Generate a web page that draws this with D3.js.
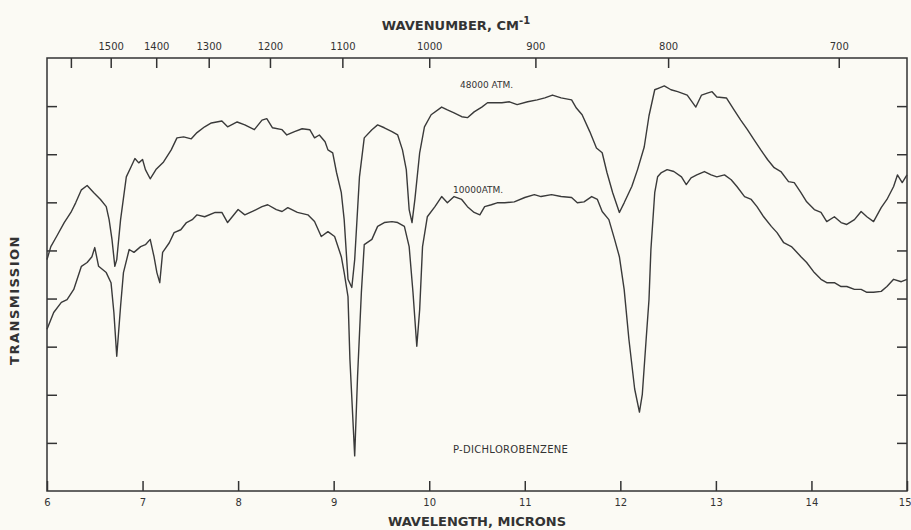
<!DOCTYPE html>
<html>
<head>
<meta charset="utf-8">
<script src="https://cdn.jsdelivr.net/npm/d3@7"></script>
<style>
  html, body { margin: 0; padding: 0; background: #fbfaf4; }
  svg { display: block; }
  .axis path { display: none; }
  .axis line { stroke: #333; stroke-width: 1.5; }
  .axis text { font-family: "DejaVu Sans", sans-serif; font-size: 10px; fill: #333; }
</style>
</head>
<body>
<div id="chart"></div>
<script>
// wavelength (microns) tick labels along the bottom
const wavelengthTicks = [6, 7, 8, 9, 10, 11, 12, 13, 14, 15];
// wavenumber (cm-1) ticks along the top, "" = no label
const wavenumberTicks = [1600, 1500, 1400, 1300, 1200, 1100, 1000, 900, 800, 700];
const wavenumberLabels = ["", "1500", "1400", "1300", "1200", "1100", "1000", "900", "800", "700"];
const transmissionTicks = [10, 20, 30, 40, 50, 60, 70, 80];

// 48000 atm trace: [wavelength, transmission]
const atm48000 = [
  [6.00, 48.1], [6.04, 50.8], [6.10, 52.9], [6.18, 55.8], [6.25, 57.9], [6.30, 59.9],
  [6.36, 62.6], [6.42, 63.5], [6.49, 62.0], [6.56, 60.6], [6.62, 59.1], [6.65, 56.4],
  [6.68, 52.3], [6.71, 46.7], [6.73, 48.1], [6.77, 56.4], [6.83, 65.3], [6.88, 67.4],
  [6.92, 69.1], [6.96, 68.2], [7.00, 68.9], [7.03, 66.8], [7.08, 64.9], [7.14, 66.8],
  [7.22, 68.4], [7.30, 70.9], [7.36, 73.4], [7.43, 73.6], [7.51, 73.2], [7.57, 74.5],
  [7.65, 75.7], [7.72, 76.5], [7.83, 76.9], [7.89, 75.7], [7.99, 76.7], [8.07, 76.1],
  [8.17, 75.1], [8.25, 77.1], [8.30, 77.4], [8.36, 75.5], [8.46, 75.1], [8.51, 74.0],
  [8.59, 74.7], [8.67, 75.3], [8.75, 75.1], [8.80, 73.4], [8.85, 74.0], [8.91, 72.6],
  [8.94, 70.9], [8.99, 70.3], [9.03, 66.2], [9.08, 62.0], [9.11, 56.4], [9.15, 44.0],
  [9.19, 42.3], [9.22, 48.1], [9.27, 65.3], [9.32, 73.4], [9.40, 75.1], [9.46, 76.1],
  [9.53, 75.5], [9.61, 74.7], [9.67, 74.0], [9.72, 70.9], [9.76, 66.8], [9.79, 58.5],
  [9.82, 55.8], [9.85, 60.6], [9.90, 70.3], [9.95, 75.7], [10.02, 78.2], [10.13, 79.8],
  [10.19, 79.2], [10.26, 78.6], [10.34, 77.8], [10.40, 77.6], [10.47, 78.8], [10.55, 79.8],
  [10.61, 80.7], [10.71, 80.7], [10.76, 80.7], [10.84, 80.9], [10.92, 80.3], [11.03, 80.9],
  [11.13, 81.3], [11.21, 81.7], [11.29, 82.3], [11.38, 81.7], [11.49, 81.3], [11.54, 79.6],
  [11.60, 78.2], [11.68, 74.7], [11.75, 71.3], [11.81, 70.3], [11.86, 66.2], [11.92, 62.0],
  [11.99, 57.9], [12.04, 59.9], [12.12, 63.3], [12.18, 66.8], [12.25, 71.5], [12.30, 78.0],
  [12.36, 83.4], [12.41, 83.8], [12.46, 84.2], [12.53, 83.4], [12.60, 83.0], [12.70, 82.3],
  [12.79, 79.8], [12.85, 82.3], [12.91, 82.7], [12.96, 83.0], [13.01, 81.9], [13.11, 81.7],
  [13.19, 79.2], [13.26, 77.1], [13.33, 75.1], [13.40, 73.0], [13.47, 70.9], [13.54, 68.9],
  [13.61, 67.2], [13.68, 66.4], [13.76, 64.3], [13.82, 64.1], [13.89, 62.0], [13.95, 60.1],
  [14.03, 58.5], [14.10, 57.9], [14.16, 56.0], [14.24, 57.0], [14.31, 55.8], [14.37, 55.4],
  [14.45, 56.4], [14.52, 58.1], [14.58, 57.0], [14.65, 56.0], [14.73, 58.9], [14.79, 60.6],
  [14.86, 63.3], [14.90, 65.7], [14.95, 64.1], [15.00, 65.7]
];

// 10000 atm trace: [wavelength, transmission]
const atm10000 = [
  [6.00, 33.6], [6.07, 37.1], [6.15, 39.2], [6.21, 39.8], [6.28, 41.9], [6.36, 46.7],
  [6.42, 47.5], [6.47, 48.7], [6.50, 50.6], [6.54, 46.7], [6.62, 45.4], [6.67, 43.3],
  [6.70, 37.1], [6.73, 28.0], [6.77, 38.4], [6.80, 45.4], [6.86, 50.2], [6.91, 49.6],
  [6.98, 50.8], [7.03, 51.2], [7.08, 52.3], [7.12, 48.7], [7.15, 45.4], [7.18, 43.3],
  [7.21, 49.6], [7.28, 51.6], [7.33, 53.7], [7.40, 54.3], [7.46, 55.8], [7.52, 56.4],
  [7.57, 57.4], [7.65, 57.0], [7.76, 57.9], [7.83, 57.9], [7.89, 55.8], [8.00, 58.5],
  [8.07, 57.4], [8.15, 58.1], [8.25, 59.1], [8.31, 59.5], [8.40, 58.5], [8.46, 58.1],
  [8.52, 58.9], [8.62, 57.9], [8.73, 57.4], [8.80, 56.0], [8.87, 52.9], [8.94, 53.9],
  [9.01, 52.9], [9.08, 48.7], [9.11, 45.4], [9.15, 40.4], [9.17, 27.4], [9.22, 7.3],
  [9.25, 23.8], [9.29, 41.3], [9.32, 51.2], [9.40, 52.3], [9.46, 55.0], [9.53, 55.8],
  [9.61, 56.0], [9.67, 55.8], [9.74, 55.0], [9.79, 50.8], [9.83, 41.3], [9.87, 30.1],
  [9.90, 37.7], [9.93, 50.8], [9.98, 57.0], [10.06, 59.1], [10.13, 61.2], [10.19, 59.9],
  [10.26, 61.2], [10.34, 60.6], [10.40, 59.1], [10.47, 57.9], [10.53, 57.4], [10.58, 59.1],
  [10.65, 59.5], [10.71, 59.9], [10.79, 59.9], [10.89, 60.1], [11.00, 61.0], [11.10, 61.6],
  [11.17, 61.2], [11.28, 61.6], [11.38, 61.2], [11.49, 61.0], [11.55, 59.9], [11.62, 60.1],
  [11.70, 61.2], [11.76, 60.6], [11.81, 58.1], [11.88, 56.4], [11.94, 52.3], [11.99, 48.7],
  [12.04, 41.9], [12.09, 31.5], [12.15, 21.2], [12.20, 16.4], [12.23, 20.1], [12.27, 31.5],
  [12.30, 39.8], [12.32, 50.2], [12.36, 62.0], [12.39, 65.3], [12.43, 66.2], [12.49, 66.8],
  [12.56, 66.4], [12.64, 65.3], [12.69, 63.7], [12.74, 65.1], [12.80, 65.7], [12.88, 66.4],
  [12.95, 65.7], [13.01, 65.3], [13.09, 65.7], [13.16, 64.7], [13.22, 63.3], [13.30, 61.2],
  [13.37, 60.6], [13.43, 59.1], [13.50, 57.0], [13.58, 55.0], [13.64, 53.7], [13.71, 51.6],
  [13.79, 50.8], [13.82, 50.2], [13.89, 48.7], [13.95, 47.5], [14.03, 45.4], [14.10, 44.0],
  [14.16, 43.3], [14.24, 43.3], [14.31, 42.5], [14.37, 42.5], [14.45, 41.9], [14.52, 41.9],
  [14.58, 41.3], [14.65, 41.3], [14.73, 41.5], [14.79, 42.5], [14.86, 44.0], [14.94, 43.5],
  [15.00, 44.0]
];

const width = 911;
const height = 530;
const plotLeft = 47, plotRight = 907, plotTop = 58, plotBottom = 491;

const svg = d3.select("#chart")
  .append("svg")
  .attr("width", width)
  .attr("height", height);

const x = d3.scaleLinear().domain([6, 15]).range([plotLeft, plotRight]);
const y = d3.scaleLinear().domain([0, 90]).range([plotBottom, plotTop]);

// frame
svg.append("rect")
  .attr("x", plotLeft).attr("y", plotTop)
  .attr("width", plotRight - plotLeft).attr("height", plotBottom - plotTop)
  .attr("fill", "none").attr("stroke", "#333").attr("stroke-width", 1.5);

// bottom axis, ticks pointing in
const xAxisG = svg.append("g")
  .attr("class", "axis")
  .attr("transform", `translate(0,${plotBottom})`)
  .call(d3.axisBottom(x).tickValues(wavelengthTicks).tickSize(-10).tickPadding(8).tickFormat(d3.format("d")));

// last label sits against the right edge
xAxisG.selectAll(".tick text")
  .filter(d => d === 15)
  .attr("text-anchor", "end")
  .attr("x", 4);

// top axis in wavenumbers
svg.append("g")
  .attr("class", "axis")
  .attr("transform", `translate(0,${plotTop})`)
  .call(d3.axisTop(x)
    .tickValues(wavenumberTicks.map(w => 10000 / w))
    .tickSize(-10).tickPadding(8)
    .tickFormat((d, i) => wavenumberLabels[i]));

svg.append("g")
  .attr("class", "axis")
  .attr("transform", `translate(${plotLeft},0)`)
  .call(d3.axisLeft(y).tickValues(transmissionTicks).tickSize(-10).tickFormat(""));

svg.append("g")
  .attr("class", "axis")
  .attr("transform", `translate(${plotRight},0)`)
  .call(d3.axisRight(y).tickValues(transmissionTicks).tickSize(-10).tickFormat(""));

// spectra
const line = d3.line().x(d => x(d[0])).y(d => y(d[1]));

[atm48000, atm10000].forEach(series => {
  svg.append("path")
    .datum(series)
    .attr("d", line)
    .attr("fill", "none")
    .attr("stroke", "#3a3a3a")
    .attr("stroke-width", 1.4)
    .attr("stroke-linejoin", "round");
});

// titles
const title = (txt, tx, ty, size, extra) => {
  const t = svg.append("text")
    .attr("x", tx).attr("y", ty)
    .attr("font-family", "DejaVu Sans, sans-serif")
    .attr("font-size", size)
    .attr("fill", "#333")
    .text(txt);
  if (extra) extra(t);
  return t;
};

const wn = svg.append("text")
  .attr("x", 456).attr("y", 30)
  .attr("text-anchor", "middle")
  .attr("font-family", "DejaVu Sans, sans-serif")
  .attr("font-size", 13).attr("font-weight", "bold")
  .attr("fill", "#333");
wn.append("tspan").text("WAVENUMBER, CM");
wn.append("tspan").attr("dy", -6).attr("font-size", 10).text("-1");

title("WAVELENGTH, MICRONS", 477, 526, 13, t => t.attr("text-anchor", "middle").attr("font-weight", "bold"));

title("TRANSMISSION", 0, 0, 13, t => t
  .attr("text-anchor", "middle")
  .attr("font-weight", "bold")
  .attr("letter-spacing", 1.5)
  .attr("transform", "translate(19,300) rotate(-90)"));

// curve labels
title("48000 ATM.", 460, 88, 9);
title("10000ATM.", 453, 193, 9);
title("P-DICHLOROBENZENE", 453, 453, 10, t => t.attr("letter-spacing", 0.3));
</script>
</body>
</html>
